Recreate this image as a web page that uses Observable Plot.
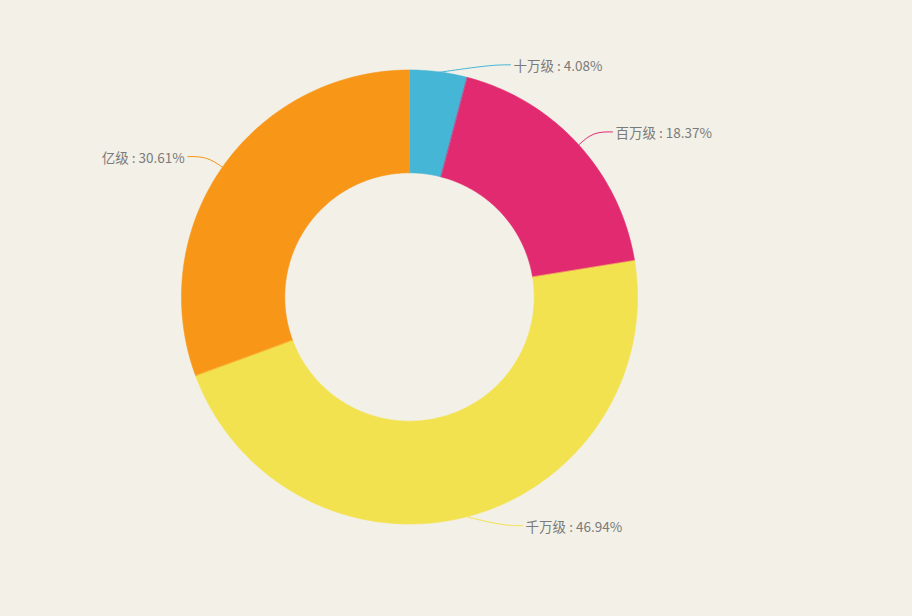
<!DOCTYPE html>
<html>
<head>
<meta charset="utf-8">
<script src="https://cdn.jsdelivr.net/npm/d3@7"></script>
<script src="https://cdn.jsdelivr.net/npm/@observablehq/plot@0.6"></script>
<style>
  html, body { margin: 0; padding: 0; background: #f2f0e7; }
  #chart { width: 912px; height: 616px; }
</style>
</head>
<body>
<div id="chart"></div>
<script>
// ---- data ----
const categories = ["十万级", "百万级", "千万级", "亿级"];
const shares = [4.08, 18.37, 46.94, 30.61];
const colors = ["#45b6d5", "#e22a70", "#f3e250", "#f89617"];

// ---- geometry (unit circle, y grows downward) ----
const innerRatio = 0.547;
const labelRadius = 1.085;       // elbow of the leader line
const bandTop = -1.025, bandBottom = 1.005; // keep labels inside the frame band
const tail = 0.085;              // horizontal part of leader line

const total = d3.sum(shares);
let acc = 0;
const slices = categories.map((c, i) => {
  const a0 = acc / total * 2 * Math.PI;
  acc += shares[i];
  const a1 = acc / total * 2 * Math.PI;
  return {cat: c, value: shares[i], a0, a1, mid: (a0 + a1) / 2};
});

const arcRows = [];
for (const s of slices) {
  const n = Math.max(4, Math.ceil((s.a1 - s.a0) / (2 * Math.PI) * 400));
  for (let k = 0; k <= n; k++) {
    const t = s.a0 + (s.a1 - s.a0) * k / n;
    arcRows.push({
      cat: s.cat,
      x1: innerRatio * Math.sin(t), y1: -innerRatio * Math.cos(t),
      x2: Math.sin(t), y2: -Math.cos(t)
    });
  }
}

const lineRows = [];
const labelRows = [];
for (const s of slices) {
  const ox = Math.sin(s.mid), oy = -Math.cos(s.mid);
  const side = ox >= 0 ? 1 : -1;
  let ey = labelRadius * oy;
  ey = Math.max(bandTop, Math.min(bandBottom, ey));
  const ex = side * Math.sqrt(labelRadius * labelRadius - ey * ey);
  const tx = ex + side * tail;
  lineRows.push({cat: s.cat, x: ox, y: oy});
  lineRows.push({cat: s.cat, x: ex, y: ey});
  lineRows.push({cat: s.cat, x: tx, y: ey});
  labelRows.push({cat: s.cat, side, x: tx, y: ey, text: `${s.cat} : ${s.value.toFixed(2)}%`});
}

const textStyle = {fill: "#7b7b7b", fontSize: 13.5, dy: 2, fontFamily: "'Noto Sans CJK SC', 'Noto Sans', sans-serif"};

const chart = Plot.plot({
  width: 912,
  height: 616,
  marginLeft: 181.5,
  marginRight: 912 - 637.5,
  marginTop: 70,
  marginBottom: 616 - 524,
  x: {domain: [-1, 1], axis: null},
  y: {domain: [1, -1], axis: null},
  color: {domain: categories, range: colors},
  style: {background: "transparent", overflow: "visible", fontFamily: "'Noto Sans CJK SC', sans-serif"},
  marks: [
    Plot.area(arcRows, {x1: "x1", y1: "y1", x2: "x2", y2: "y2", z: "cat", fill: "cat", stroke: "cat", strokeWidth: 0.6}),
    Plot.line(lineRows, {x: "x", y: "y", z: "cat", stroke: "cat", strokeWidth: 1, curve: "basis"}),
    Plot.text(labelRows.filter(d => d.side > 0), {x: "x", y: "y", text: "text", textAnchor: "start", dx: 3, ...textStyle}),
    Plot.text(labelRows.filter(d => d.side < 0), {x: "x", y: "y", text: "text", textAnchor: "end", dx: -3, ...textStyle})
  ]
});
document.getElementById("chart").appendChild(chart);
</script>
</body>
</html>
